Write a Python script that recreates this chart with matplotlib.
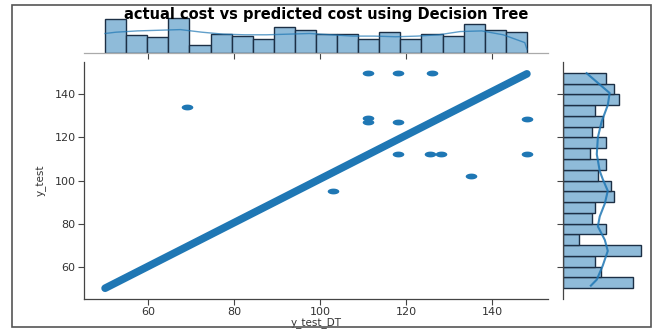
import numpy as np
import matplotlib
matplotlib.use("Agg")
import matplotlib.pyplot as plt
from matplotlib.patches import Rectangle
from matplotlib.path import Path

# diagonal (perfect predictions) end points
diag_dt = [50, 148]
diag_test = [50, 149.5]

# off-diagonal points: predicted (x) vs actual (y)
out_dt = [69, 111, 118, 126, 111, 111, 118, 148, 118, 125.5, 128, 148, 135, 103]
out_test = [134, 150, 150, 150, 129, 127, 127, 128.5, 112.5, 112.5, 112.5, 112.5, 102, 95]

# marginal histogram counts (20 bins each)
hist_dt_counts = [26, 14, 12, 27, 6, 15, 13, 11, 20, 18, 15, 15, 11, 16, 11, 15, 13, 22, 18, 16]
hist_test_counts = [26, 14, 12, 29, 6, 16, 11, 12, 19, 18, 13, 16, 10, 16, 11, 15, 12, 21, 19, 16]

# kde curves
kde_dt_pos = [50, 52.5, 57.5, 62.5, 67.5, 72.5, 77.5, 82.5, 87.5, 92.5, 97.5, 102.5,
              107.5, 112.5, 117.5, 122.5, 127.5, 132.5, 137.5, 142.5, 147.5, 148]
kde_dt_val = [15, 16, 17, 17.5, 18, 16, 14.5, 14, 14, 14.5, 15, 14,
              13, 13, 12.5, 13, 14, 16.5, 17, 14, 8, 3]
kde_test_pos = [51.2, 54, 60.4, 67.3, 72.4, 78.7, 83.3, 89.3, 95.2, 100.7, 104.4,
                112.2, 120, 127.3, 135, 140.6, 149.8]
kde_test_val = [10.4, 12.6, 14.8, 16.7, 15.6, 13.0, 13.7, 15.6, 16.7, 14.8, 13.7,
                12.6, 13.0, 14.4, 16.7, 17.4, 8.8]

blue = '#1f77b4'
bar_fill = '#8fbbd9'
bar_edge = '#1c2f45'
spine_c = '#444444'

plt.rcParams['font.family'] = 'DejaVu Sans'

fig = plt.figure(figsize=(6.57, 3.29), dpi=100)
W, H = 657, 329


def px_axes(x0, y0, x1, y1):
    return fig.add_axes([x0 / W, 1 - y1 / H, (x1 - x0) / W, (y1 - y0) / H])


ax = px_axes(84, 62, 548, 299)
ax_top = px_axes(84, 14, 548, 53)
ax_right = px_axes(563, 62, 648, 299)

# wide ellipse marker (the original image is stretched sideways)
t = np.linspace(0, 2 * np.pi, 40)
ell = Path(np.column_stack([np.cos(t), 0.5 * np.sin(t)]))

ax.plot(diag_dt, diag_test, color=blue, lw=5.5, solid_capstyle='round', zorder=2)
ax.scatter(out_dt, out_test, marker=ell, s=70, color=blue, zorder=3, linewidths=0)
ax.set_xlim(45.1, 152.9)
ax.set_ylim(45, 155)
ax.set_xticks([60, 80, 100, 120, 140])
ax.set_yticks([60, 80, 100, 120, 140])
ax.set_xlabel('y_test_DT', fontsize=7.5, color='#333333', labelpad=0)
ax.set_ylabel('y_test', fontsize=7.5, color='#333333', labelpad=6)

# top margin
edges_dt = np.linspace(50, 148, len(hist_dt_counts) + 1)
ax_top.bar(edges_dt[:-1], hist_dt_counts, width=np.diff(edges_dt), align='edge',
           color=bar_fill, edgecolor=bar_edge, linewidth=1)
ax_top.plot(kde_dt_pos, kde_dt_val, color=blue, lw=1, alpha=0.7)
ax_top.set_xlim(ax.get_xlim())
ax_top.set_ylim(0, 30)
ax_top.set_yticks([])
ax_top.set_xticks([60, 80, 100, 120, 140])
ax_top.set_xticklabels([])

# right margin
edges_test = np.linspace(50, 150, len(hist_test_counts) + 1)
ax_right.barh(edges_test[:-1], hist_test_counts, height=np.diff(edges_test), align='edge',
              color=bar_fill, edgecolor=bar_edge, linewidth=1)
ax_right.plot(kde_test_val, kde_test_pos, color=blue, lw=1.5, alpha=0.85)
ax_right.set_ylim(ax.get_ylim())
ax_right.set_xlim(0, 31.7)
ax_right.set_xticks([])
ax_right.set_yticks([60, 80, 100, 120, 140])
ax_right.set_yticklabels([])

for a in (ax, ax_top, ax_right):
    for s in ('top', 'right'):
        a.spines[s].set_visible(False)
    for s in ('left', 'bottom'):
        a.spines[s].set_color(spine_c)
        a.spines[s].set_linewidth(0.9)
    a.tick_params(colors=spine_c, labelcolor='#333333', labelsize=8, length=4,
                  width=0.8, pad=2)
    a.set_facecolor('none')
ax_top.spines['left'].set_visible(False)
ax_top.spines['bottom'].set_color('#aaaaaa')
ax_right.spines['bottom'].set_visible(False)

fig.text(0.497, 1 - 15 / H, 'actual cost vs predicted cost using Decision Tree',
         ha='center', va='center', fontsize=10.5, fontweight='bold', zorder=10)

# thin frame around the picture
fig.patches.append(Rectangle((12 / W, 1 - 327 / H), (651 - 12) / W, (327 - 5) / H,
                             transform=fig.transFigure, fill=False,
                             edgecolor='#555555', linewidth=1.2))

fig.savefig('out.png', dpi=100)
